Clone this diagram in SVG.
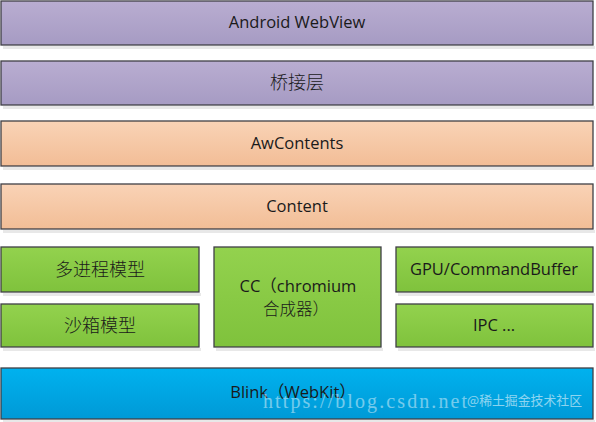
<svg xmlns="http://www.w3.org/2000/svg" width="596" height="422" viewBox="0 0 596 422">
<defs>
<linearGradient id="gPurple" x1="0" y1="0" x2="0" y2="1"><stop offset="0" stop-color="#b9add1"/><stop offset="1" stop-color="#a69bc3"/></linearGradient>
<linearGradient id="gOrange" x1="0" y1="0" x2="0" y2="1"><stop offset="0" stop-color="#f9d3b6"/><stop offset="1" stop-color="#f2bd96"/></linearGradient>
<linearGradient id="gGreen" x1="0" y1="0" x2="0" y2="1"><stop offset="0" stop-color="#93d24e"/><stop offset="1" stop-color="#7fc23c"/></linearGradient>
<linearGradient id="gBlue" x1="0" y1="0" x2="0" y2="1"><stop offset="0" stop-color="#00b2ef"/><stop offset="1" stop-color="#0099d6"/></linearGradient>
</defs>
<style>
rect.b{stroke:#3f3f46;stroke-width:1.3}
rect.sh{fill:#d8d8d8;opacity:0.6}
text{font-family:"Open Sans","Noto Sans CJK SC",sans-serif;font-size:16.5px;fill:#1a1a1a;text-anchor:middle}
.cjk{font-size:18px;font-weight:300}
text.wm{font-family:"Liberation Serif","Noto Sans CJK SC",serif;font-size:20px;fill:#ffffff;opacity:0.45;text-anchor:start}
text.wm2{font-family:"Noto Sans CJK SC",sans-serif;font-size:13px;fill:#ffffff;opacity:0.55;text-anchor:start}
</style>
<rect width="596" height="422" fill="#ffffff"/>
<g id="android-webview"><rect class="sh" x="3" y="46" width="592" height="3"/><rect class="b" x="1" y="1" width="592" height="44" fill="url(#gPurple)"/><text x="297" y="28">Android WebView</text></g>
<g id="bridge"><rect class="sh" x="3" y="106" width="592" height="3"/><rect class="b" x="1" y="61" width="592" height="44" fill="url(#gPurple)"/><text class="cjk" x="297" y="89">桥接层</text></g>
<g id="awcontents"><rect class="sh" x="3" y="167" width="592" height="3"/><rect class="b" x="1" y="121" width="592" height="45" fill="url(#gOrange)"/><text x="297" y="149">AwContents</text></g>
<g id="content"><rect class="sh" x="3" y="230" width="592" height="3"/><rect class="b" x="1" y="184" width="592" height="45" fill="url(#gOrange)"/><text x="297" y="212">Content</text></g>
<g id="multiprocess"><rect class="sh" x="3" y="293" width="198" height="3"/><rect class="b" x="1" y="247" width="198" height="45" fill="url(#gGreen)"/><text class="cjk" x="100" y="276">多进程模型</text></g>
<g id="sandbox"><rect class="sh" x="3" y="348" width="198" height="3"/><rect class="b" x="1" y="304" width="198" height="43" fill="url(#gGreen)"/><text class="cjk" x="100" y="332">沙箱模型</text></g>
<g id="cc"><rect class="sh" x="216" y="348" width="167" height="3"/><rect class="b" x="214" y="247" width="167" height="100" fill="url(#gGreen)"/><text x="298" y="292">CC（chromium</text><text x="296" y="315" style="font-weight:300">合成器）</text></g>
<g id="gpu"><rect class="sh" x="398" y="293" width="197" height="3"/><rect class="b" x="396" y="247" width="197" height="45" fill="url(#gGreen)"/><text x="494" y="275">GPU/CommandBuffer</text></g>
<g id="ipc"><rect class="sh" x="398" y="348" width="197" height="3"/><rect class="b" x="396" y="304" width="197" height="43" fill="url(#gGreen)"/><text x="494" y="331">IPC ...</text></g>
<g id="blink"><rect class="sh" x="3" y="420" width="592" height="2"/><rect class="b" x="1" y="368" width="592" height="51" fill="url(#gBlue)"/><text x="293" y="398">Blink（WebKit）</text></g>
<g id="connectors"></g>
<text class="wm" x="263" y="408" textLength="204" lengthAdjust="spacing">https://blog.csdn.net</text>
<text class="wm2" x="467" y="405" textLength="115" lengthAdjust="spacingAndGlyphs">@稀土掘金技术社区</text>
</svg>
